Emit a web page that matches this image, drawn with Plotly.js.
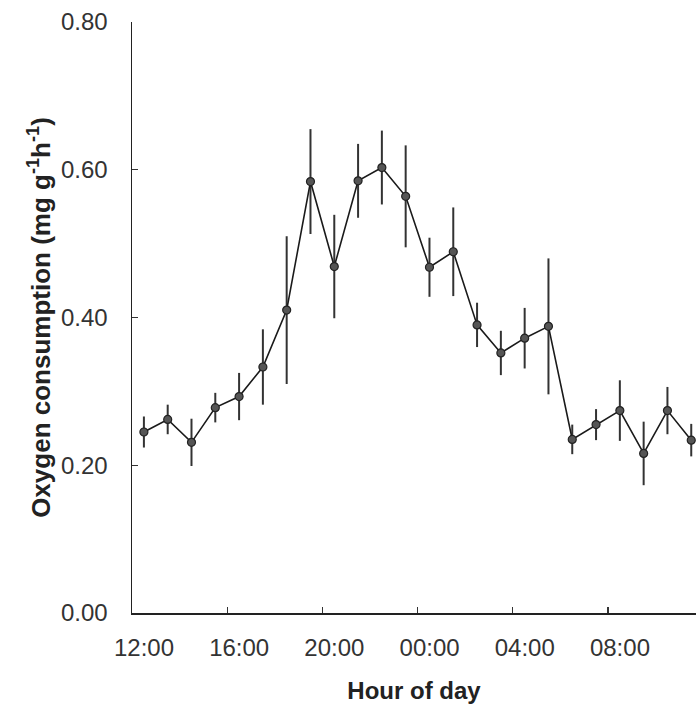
<!DOCTYPE html>
<html>
<head>
<meta charset="utf-8">
<script src="https://cdn.plot.ly/plotly-3.0.1.min.js"></script>
<style>html,body{margin:0;padding:0;background:#fff;overflow:hidden}#chart{width:696px;height:710px}</style>
</head>
<body>
<div id="chart"></div>
<script>
// hours after 12:00 (points at half hours)
const hours = [0.5,1.5,2.5,3.5,4.5,5.5,6.5,7.5,8.5,9.5,10.5,11.5,12.5,13.5,14.5,15.5,16.5,17.5,18.5,19.5,20.5,21.5,22.5,23.5];
const oxygen = [0.245,0.262,0.231,0.278,0.293,0.333,0.410,0.584,0.469,0.585,0.603,0.564,0.468,0.489,0.390,0.352,0.372,0.388,0.235,0.255,0.274,0.216,0.274,0.234];
const errors = [0.021,0.020,0.032,0.020,0.032,0.051,0.100,0.071,0.070,0.050,0.050,0.069,0.040,0.060,0.030,0.030,0.041,0.092,0.020,0.021,0.041,0.043,0.032,0.022];
const tickHours = [0,4,8,12,16,20];
const tickLabels = ['12:00','16:00','20:00','00:00','04:00','08:00'];
const yTicks = [0,0.2,0.4,0.6,0.8];
const yTickLabels = ['0.00','0.20','0.40','0.60','0.80'];

const trace = {
  x: hours, y: oxygen, type: 'scatter', mode: 'lines+markers',
  line: {color: '#1a1a1a', width: 1.6},
  marker: {size: 8, color: '#555', line: {color: '#222', width: 1.2}},
  error_y: {type: 'data', array: errors, visible: true, color: '#333', thickness: 2, width: 0},
  cliponaxis: false
};
const fam = '"Liberation Sans", Arial, sans-serif';
const layout = {
  width: 696, height: 710,
  margin: {l: 132, r: 0, t: 22, b: 97},
  paper_bgcolor: '#fff', plot_bgcolor: '#fff',
  showlegend: false,
  font: {family: fam, color: '#333', size: 16},
  xaxis: {
    range: [0, 23.7], tickvals: tickHours, ticktext: tickLabels,
    ticks: 'inside', ticklen: 6, tickwidth: 1.2, tickcolor: '#333',
    showline: true, linecolor: '#222', linewidth: 1.5, showgrid: false, zeroline: false,
    ticklabelstandoff: 13, ticklabelshift: 12,
    tickfont: {size: 24, color: '#333', family: fam},
    title: {text: 'Hour of day', font: {size: 24, color: '#222', family: fam, weight: 'bold'}, standoff: 22}
  },
  yaxis: {
    range: [0, 0.8], tickvals: yTicks, ticktext: yTickLabels,
    ticks: 'inside', ticklen: 6, tickwidth: 1.2, tickcolor: '#333',
    showline: true, linecolor: '#222', linewidth: 1.5, showgrid: false, zeroline: false,
    ticklabelstandoff: 18,
    tickfont: {size: 24, color: '#333', family: fam},
    title: {text: 'Oxygen consumption (mg g<sup>-1</sup>h<sup>-1</sup>)', font: {size: 26, color: '#222', family: fam, weight: 'bold'}, standoff: 3}
  }
};
Plotly.newPlot('chart', [trace], layout, {displayModeBar: false, staticPlot: true});
</script>
</body>
</html>
